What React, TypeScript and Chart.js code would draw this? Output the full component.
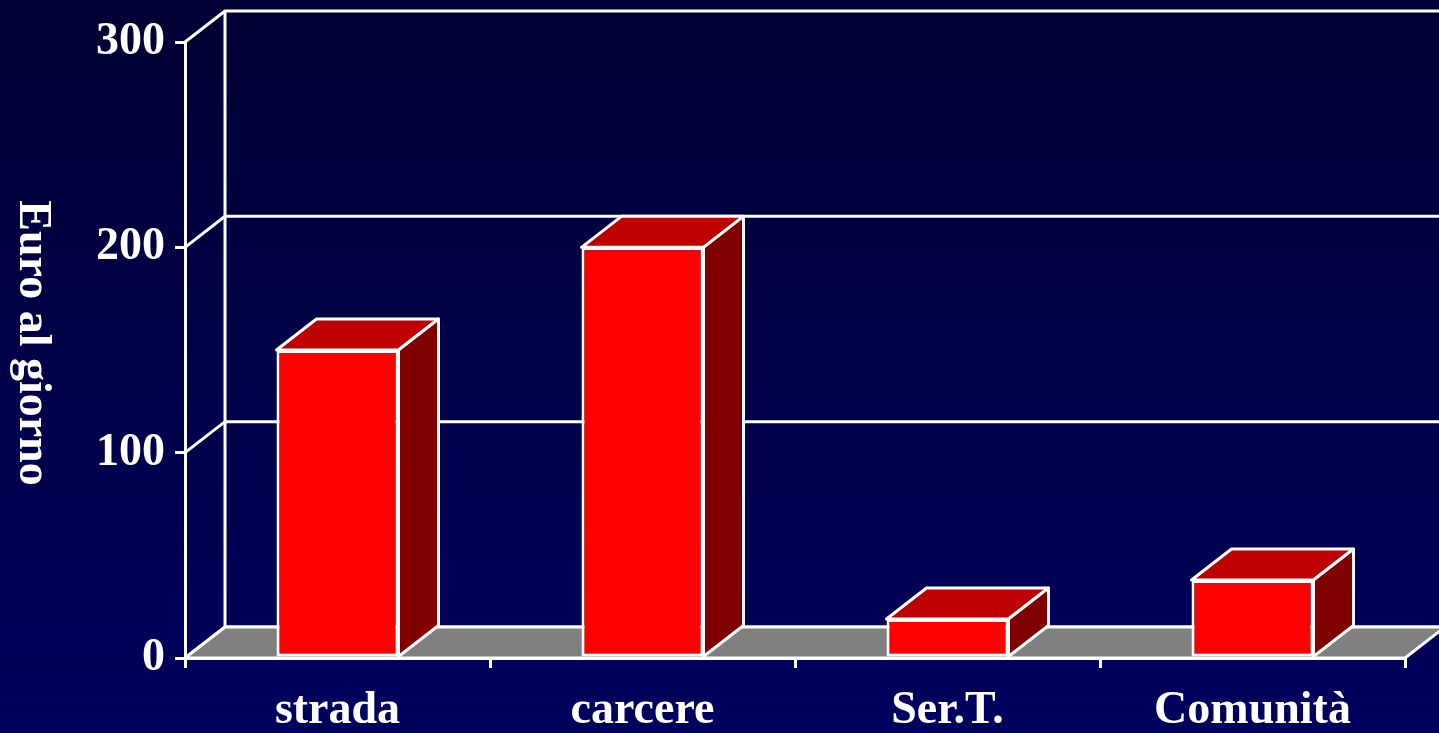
import React, { useEffect, useRef } from 'react';
import { Chart, registerables } from 'chart.js';

Chart.register(...registerables);

const categories = ['strada', 'carcere', 'Ser.T.', 'Comunità'];
const values = [150, 200, 19, 38];
const yMin = 0;
const yMax = 300;
const yStep = 100;
const yTitle = 'Euro al giorno';

const DX = 40;
const DY = -31;
const FONT = "'Liberation Serif', 'Times New Roman', serif";

const threeD = {
  id: 'threeD',
  beforeDraw(chart: any) {
    const { ctx, chartArea } = chart;
    const { left, right, top, bottom } = chartArea;
    const y = chart.scales.y;
    ctx.save();
    ctx.strokeStyle = '#ffffff';
    ctx.lineWidth = 3;
    y.ticks.forEach((t: any) => {
      const py = y.getPixelForValue(t.value);
      ctx.beginPath();
      ctx.moveTo(left, py);
      ctx.lineTo(left + DX, py + DY);
      ctx.lineTo(right + DX, py + DY);
      ctx.stroke();
    });
    ctx.beginPath();
    ctx.moveTo(left + DX, top + DY);
    ctx.lineTo(left + DX, bottom + DY);
    ctx.stroke();
    ctx.beginPath();
    ctx.moveTo(left, bottom);
    ctx.lineTo(right, bottom);
    ctx.lineTo(right + DX, bottom + DY);
    ctx.lineTo(left + DX, bottom + DY);
    ctx.closePath();
    ctx.fillStyle = '#808080';
    ctx.fill();
    ctx.stroke();
    ctx.restore();
  },
  afterDatasetsDraw(chart: any) {
    const { ctx } = chart;
    const meta = chart.getDatasetMeta(0);
    ctx.save();
    ctx.strokeStyle = '#ffffff';
    ctx.lineWidth = 3;
    ctx.lineJoin = 'round';
    meta.data.forEach((bar: any) => {
      const { x, y, base, width } = bar.getProps(['x', 'y', 'base', 'width'], true);
      const l = x - width / 2;
      const r = x + width / 2;
      ctx.beginPath();
      ctx.moveTo(l, y);
      ctx.lineTo(r, y);
      ctx.lineTo(r + DX, y + DY);
      ctx.lineTo(l + DX, y + DY);
      ctx.closePath();
      ctx.fillStyle = '#bf0000';
      ctx.fill();
      ctx.stroke();
      ctx.beginPath();
      ctx.moveTo(r, y);
      ctx.lineTo(r + DX, y + DY);
      ctx.lineTo(r + DX, base + DY);
      ctx.lineTo(r, base);
      ctx.closePath();
      ctx.fillStyle = '#800000';
      ctx.fill();
      ctx.stroke();
    });
    ctx.restore();
  },
  afterDraw(chart: any) {
    const { ctx, chartArea } = chart;
    ctx.save();
    ctx.fillStyle = '#ffffff';
    ctx.font = `bold 46px ${FONT}`;
    ctx.textAlign = 'center';
    ctx.textBaseline = 'alphabetic';
    ctx.translate(20, (chartArea.top + chartArea.bottom) / 2 - 7);
    ctx.rotate(Math.PI / 2);
    ctx.fillText(yTitle, 0, 0);
    ctx.restore();
  },
};

export default function App() {
  const ref = useRef<HTMLCanvasElement | null>(null);
  useEffect(() => {
    const canvas = ref.current;
    if (!canvas) return;
    const chart = new Chart(canvas, {
      type: 'bar',
      data: {
        labels: categories,
        datasets: [
          {
            data: values,
            backgroundColor: '#ff0000',
            borderColor: '#ffffff',
            borderWidth: 3,
            borderSkipped: false,
            categoryPercentage: 1,
            barPercentage: 0.4,
          },
        ],
      },
      options: {
        responsive: false,
        animation: false,
        events: [],
        layout: { padding: { top: 42, right: 34, left: 0, bottom: 0 } },
        plugins: { legend: { display: false }, tooltip: { enabled: false } },
        scales: {
          x: {
            offset: true,
            grid: {
              display: true,
              offset: true,
              drawOnChartArea: false,
              drawTicks: true,
              tickLength: 10,
              color: '#ffffff',
              lineWidth: 3,
            },
            border: { display: true, color: '#ffffff', width: 3 },
            ticks: {
              color: '#ffffff',
              padding: 16,
              font: { family: FONT, size: 46, weight: 'bold' },
            },
            afterFit(s: any) {
              s.height = 75;
            },
          },
          y: {
            min: yMin,
            max: yMax,
            grid: {
              display: true,
              drawOnChartArea: false,
              drawTicks: true,
              tickLength: 10,
              color: '#ffffff',
              lineWidth: 3,
            },
            border: { display: true, color: '#ffffff', width: 3 },
            ticks: {
              stepSize: yStep,
              color: '#ffffff',
              padding: 10,
              font: { family: FONT, size: 46, weight: 'bold' },
            },
            title: { display: false },
            afterFit(s: any) {
              s.width = 185;
            },
          },
        },
      },
      plugins: [threeD],
    });
    return () => chart.destroy();
  }, []);
  return (
    <div
      style={{
        position: 'fixed',
        left: 0,
        top: 0,
        width: 1439,
        height: 733,
        background: 'linear-gradient(#000033, #00005e)',
        overflow: 'hidden',
      }}
    >
      <canvas ref={ref} width={1439} height={733} style={{ display: 'block' }} />
    </div>
  );
}
